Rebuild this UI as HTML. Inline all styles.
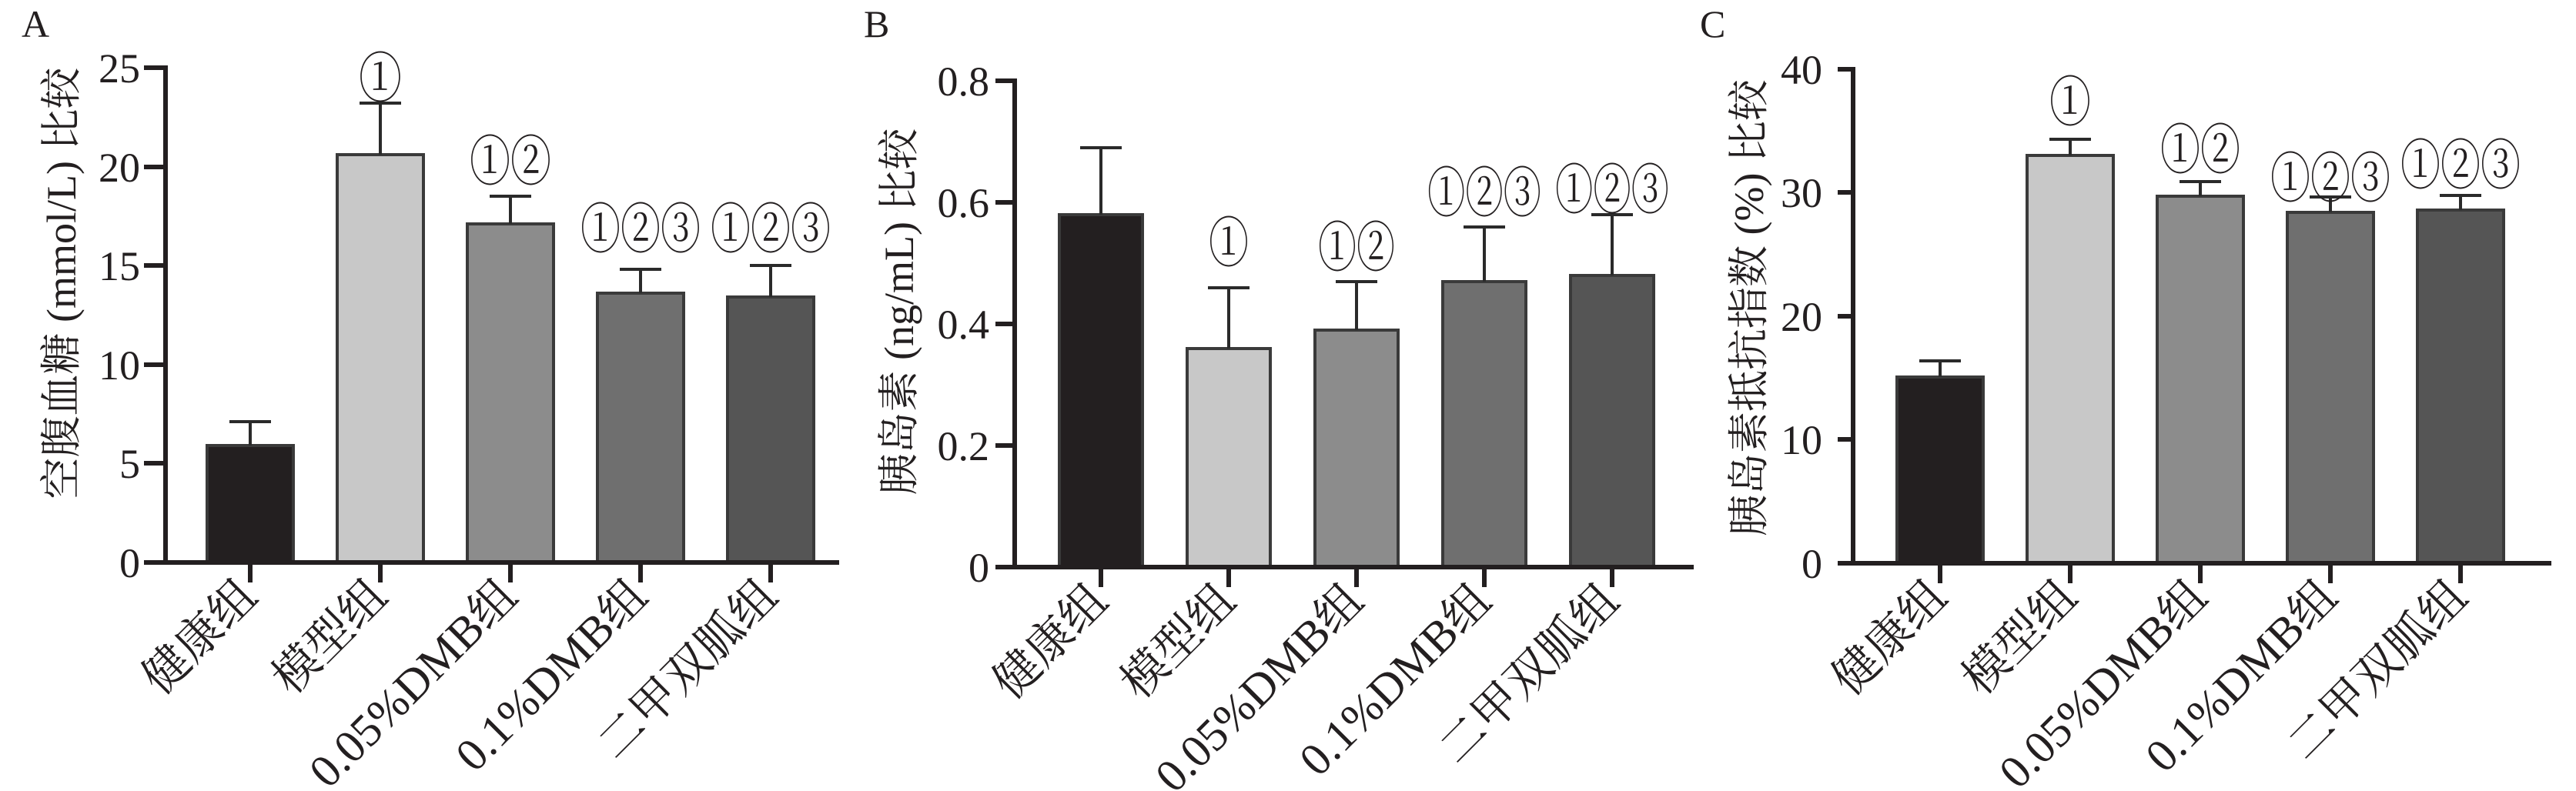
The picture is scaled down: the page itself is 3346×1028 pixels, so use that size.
<!DOCTYPE html>
<html><head><meta charset="utf-8"><style>
html,body{margin:0;padding:0;background:#fff}
svg{display:block}
text{font-family:"Liberation Serif","Noto Serif CJK SC",serif;fill:#231f20}
.t{font-size:54px;text-anchor:end}
.x{font-size:60px;text-anchor:end}
.a{font-size:70px;text-anchor:middle;font-family:"Noto Serif CJK SC","Noto Sans CJK SC",serif}
.yl{font-size:54px;text-anchor:middle}
.p{font-size:50px}
.bar{stroke:#3a3a3a;stroke-width:4}
.ax{stroke:#231f20;stroke-width:6;fill:none}
.eb{stroke:#2a2a2a;stroke-width:4;fill:none}
</style></head><body>
<svg width="3346" height="1028" viewBox="0 0 3346 1028" xmlns="http://www.w3.org/2000/svg">
<!-- Panel A -->
<text class="p" x="28" y="48">A</text>
<text class="yl" transform="translate(98,368) rotate(-90)">空腹血糖 (mmol/L) 比较</text>
<g>
<rect class="bar" x="269" y="579" width="112" height="152" fill="#231f20"/>
<rect class="bar" x="438" y="201" width="112" height="530" fill="#c8c8c8"/>
<rect class="bar" x="607" y="291" width="112" height="440" fill="#8c8c8c"/>
<rect class="bar" x="776" y="381" width="112" height="350" fill="#6f6f6f"/>
<rect class="bar" x="945" y="386" width="112" height="345" fill="#555555"/>
<path class="eb" d="M325 579V548M298 548H352M494 201V134M467 134H521M663 291V255M636 255H690M832 381V350M805 350H859M1001 386V345M974 345H1028"/>
<text class="a" x="494" y="126" textLength="56" lengthAdjust="spacingAndGlyphs">①</text>
<text class="a" x="663" y="234" textLength="106" lengthAdjust="spacingAndGlyphs">①②</text>
<text class="a" x="832" y="322" textLength="156" lengthAdjust="spacingAndGlyphs">①②③</text>
<text class="a" x="1001" y="322" textLength="156" lengthAdjust="spacingAndGlyphs">①②③</text>
<path class="ax" d="M187 88H215V731M187 217H215M187 345H215M187 474H215M187 602H215M187 731H1090M325 731V757M494 731V757M663 731V757M832 731V757M1001 731V757"/>
<text class="t" x="182" y="107">25</text><text class="t" x="182" y="236">20</text><text class="t" x="182" y="364">15</text><text class="t" x="182" y="493">10</text><text class="t" x="182" y="621">5</text><text class="t" x="182" y="750">0</text>
<text class="x" transform="translate(337,778) rotate(-45)">健康组</text>
<text class="x" transform="translate(506,778) rotate(-45)">模型组</text>
<text class="x" transform="translate(675,778) rotate(-45)">0.05%DMB组</text>
<text class="x" transform="translate(844,778) rotate(-45)">0.1%DMB组</text>
<text class="x" transform="translate(1013,778) rotate(-45)">二甲双胍组</text>
</g>
<!-- Panel B -->
<text class="p" x="1122" y="48">B</text>
<text class="yl" transform="translate(1186,405) rotate(-90)">胰岛素 (ng/mL) 比较</text>
<g>
<rect class="bar" x="1376" y="279" width="108" height="458" fill="#231f20"/>
<rect class="bar" x="1542" y="453" width="108" height="284" fill="#c8c8c8"/>
<rect class="bar" x="1708" y="429" width="108" height="308" fill="#8c8c8c"/>
<rect class="bar" x="1874" y="366" width="108" height="371" fill="#6f6f6f"/>
<rect class="bar" x="2040" y="358" width="108" height="379" fill="#555555"/>
<path class="eb" d="M1430 279V192M1403 192H1457M1596 453V374M1569 374H1623M1762 429V366M1735 366H1789M1928 366V295M1901 295H1955M2094 358V279M2067 279H2121"/>
<text class="a" x="1596" y="340" textLength="52" lengthAdjust="spacingAndGlyphs">①</text>
<text class="a" x="1762" y="346" textLength="100" lengthAdjust="spacingAndGlyphs">①②</text>
<text class="a" x="1928" y="275" textLength="148" lengthAdjust="spacingAndGlyphs">①②③</text>
<text class="a" x="2094" y="271" textLength="148" lengthAdjust="spacingAndGlyphs">①②③</text>
<path class="ax" d="M1293 105H1318V737M1293 263H1318M1293 421H1318M1293 579H1318M1293 737H2200M1430 737V763M1596 737V763M1762 737V763M1928 737V763M2094 737V763"/>
<text class="t" x="1285" y="124">0.8</text><text class="t" x="1285" y="282">0.6</text><text class="t" x="1285" y="440">0.4</text><text class="t" x="1285" y="598">0.2</text><text class="t" x="1285" y="756">0</text>
<text class="x" transform="translate(1442,784) rotate(-45)">健康组</text>
<text class="x" transform="translate(1608,784) rotate(-45)">模型组</text>
<text class="x" transform="translate(1774,784) rotate(-45)">0.05%DMB组</text>
<text class="x" transform="translate(1940,784) rotate(-45)">0.1%DMB组</text>
<text class="x" transform="translate(2106,784) rotate(-45)">二甲双胍组</text>
</g>
<!-- Panel C -->
<text class="p" x="2208" y="48">C</text>
<text class="yl" transform="translate(2290,400) rotate(-90)">胰岛素抵抗指数 (%) 比较</text>
<g>
<rect class="bar" x="2464" y="490" width="112" height="242" fill="#231f20"/>
<rect class="bar" x="2633" y="202" width="112" height="530" fill="#c8c8c8"/>
<rect class="bar" x="2802" y="255" width="112" height="477" fill="#8c8c8c"/>
<rect class="bar" x="2971" y="276" width="112" height="456" fill="#6f6f6f"/>
<rect class="bar" x="3140" y="273" width="112" height="459" fill="#555555"/>
<path class="eb" d="M2520 490V469M2493 469H2547M2689 202V181M2662 181H2716M2858 255V236M2831 236H2885M3027 276V256M3000 256H3054M3196 273V254M3169 254H3223"/>
<text class="a" x="2689" y="157" textLength="54" lengthAdjust="spacingAndGlyphs">①</text>
<text class="a" x="2858" y="219" textLength="104" lengthAdjust="spacingAndGlyphs">①②</text>
<text class="a" x="3027" y="256" textLength="156" lengthAdjust="spacingAndGlyphs">①②③</text>
<text class="a" x="3196" y="239" textLength="156" lengthAdjust="spacingAndGlyphs">①②③</text>
<path class="ax" d="M2387 90H2407V732M2387 250H2407M2387 411H2407M2387 571H2407M2387 732H3314M2520 732V758M2689 732V758M2858 732V758M3027 732V758M3196 732V758"/>
<text class="t" x="2367" y="109">40</text><text class="t" x="2367" y="269">30</text><text class="t" x="2367" y="430">20</text><text class="t" x="2367" y="590">10</text><text class="t" x="2367" y="751">0</text>
<text class="x" transform="translate(2532,779) rotate(-45)">健康组</text>
<text class="x" transform="translate(2701,779) rotate(-45)">模型组</text>
<text class="x" transform="translate(2870,779) rotate(-45)">0.05%DMB组</text>
<text class="x" transform="translate(3039,779) rotate(-45)">0.1%DMB组</text>
<text class="x" transform="translate(3208,779) rotate(-45)">二甲双胍组</text>
</g>
</svg>
</body></html>
